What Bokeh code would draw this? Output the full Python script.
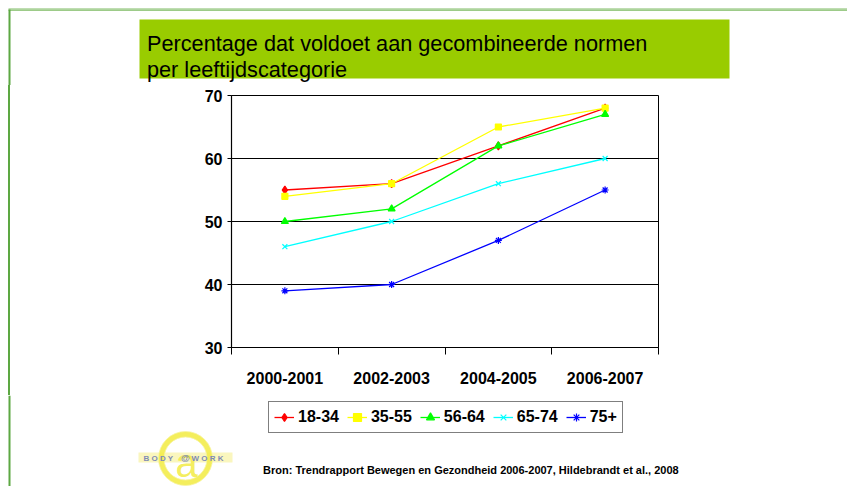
from bokeh.plotting import figure
from bokeh.layouts import column, row
from bokeh.models import (Range1d, LinearAxis, FixedTicker, Legend, LegendItem, Grid, Spacer)
from bokeh.core.properties import value
from bokeh.embed import file_html
from bokeh.resources import INLINE

# ---- data ----
categories = ["2000-2001", "2002-2003", "2004-2005", "2006-2007"]
series_names = ["18-34", "35-55", "56-64", "65-74", "75+"]
v_18_34 = [55, 56, 62, 68]
v_35_55 = [54, 56, 65, 68]
v_56_64 = [50, 52, 62, 67]
v_65_74 = [46, 50, 56, 60]
v_75p = [39, 40, 47, 55]
y_ticks = [30, 40, 50, 60, 70]
title_lines = ["Percentage dat voldoet aan gecombineerde normen", "per leeftijdscategorie"]
source_text = "Bron: Trendrapport Bewegen en Gezondheid 2006-2007, Hildebrandt et al., 2008"

series_values = [v_18_34, v_35_55, v_56_64, v_65_74, v_75p]
colors = ["#FF0000", "#FFFF00", "#00FF00", "#00FFFF", "#0000FF"]
markers = ["diamond", "square", "triangle", "x", "asterisk"]
msizes = [8, 6, 7, 7, 7]

FONT = "Liberation Sans"
LEFT_LINE = "#5DA843"

PW, PH = 847, 486          # page size (layout origin is the page's top-left)
TOP_H = 85                 # top strip: y 0..85
MID_Y1 = 395               # chart strip: y 85..395
LINE_X0, LINE_X1 = 8, 10   # slide's left frame line


def deco_fig(x0, x1, y0, y1):
    f = figure(width=x1 - x0, height=y1 - y0, x_range=Range1d(x0, x1), y_range=Range1d(y1, y0),
               output_backend="svg", toolbar_location=None, x_axis_type=None, y_axis_type=None,
               min_border=0, title=None)
    f.outline_line_color = None
    f.background_fill_color = "white"
    f.border_fill_color = "white"
    return f


# ---------- top strip: slide frame + title box ----------
top = deco_fig(0, PW, 0, TOP_H)
top.quad(left=[8], right=[PW], top=[7.5], bottom=[9], fill_color="#BFDDB2", line_color=None)
top.quad(left=[8], right=[PW], top=[9], bottom=[10.3], fill_color="#7DBA62", line_color=None)
top.quad(left=[LINE_X0], right=[LINE_X1], top=[9], bottom=[TOP_H], fill_color=LEFT_LINE,
         line_color=None)
top.quad(left=[139], right=[729], top=[19], bottom=[78], fill_color="#99CC00", line_color=None)
top.text(x=[146.5, 146.5], y=[43.3, 68.5], text=title_lines, text_font=value(FONT),
         text_font_size=value("21.7px"), text_color="black", text_baseline="alphabetic",
         text_align="left")

# ---------- middle: left line + chart ----------
MID_H = MID_Y1 - TOP_H
gap = Spacer(width=LINE_X0, height=MID_H, margin=0)
strip = Spacer(width=LINE_X1 - LINE_X0, height=MID_H, margin=0,
               styles={"background-color": LEFT_LINE})

FL, FR, FT, FB = 231, 658, 95, 347   # chart frame in page coords
W = PW - LINE_X1
p = figure(width=W, height=MID_H, x_range=Range1d(-0.5, len(categories) - 0.5),
           y_range=Range1d(30, 70), output_backend="svg", toolbar_location=None,
           x_axis_type=None, y_axis_type=None, title=None,
           min_border_left=FL - LINE_X1, min_border_right=PW - FR,
           min_border_top=FT - TOP_H, min_border_bottom=MID_Y1 - FB)
p.background_fill_color = "white"
p.border_fill_color = "white"
p.outline_line_color = "black"
p.outline_line_width = 1

xs = list(range(len(categories)))

xaxis = LinearAxis(ticker=FixedTicker(ticks=xs, minor_ticks=[x - 0.5 for x in xs] + [xs[-1] + 0.5]),
                   major_label_overrides={i: c for i, c in enumerate(categories)})
xaxis.major_tick_out = 0
xaxis.major_tick_in = 0
xaxis.minor_tick_out = 7
xaxis.minor_tick_in = 0
xaxis.minor_tick_line_color = "black"
xaxis.axis_line_color = "black"
xaxis.axis_line_width = 1.2
xaxis.major_label_standoff = 17
xaxis.major_label_text_font = FONT
xaxis.major_label_text_font_style = "bold"
xaxis.major_label_text_font_size = "16px"
xaxis.major_label_text_color = "black"
p.add_layout(xaxis, "below")

yaxis = LinearAxis(ticker=FixedTicker(ticks=y_ticks, minor_ticks=[]))
yaxis.major_tick_out = 4
yaxis.major_tick_in = 0
yaxis.minor_tick_out = 0
yaxis.major_tick_line_color = "black"
yaxis.axis_line_color = "black"
yaxis.axis_line_width = 1.2
yaxis.major_label_standoff = 5
yaxis.major_label_text_font = FONT
yaxis.major_label_text_font_style = "bold"
yaxis.major_label_text_font_size = "16px"
yaxis.major_label_text_color = "black"
p.add_layout(yaxis, "left")

p.add_layout(Grid(dimension=1, ticker=yaxis.ticker, grid_line_color="black", grid_line_width=1))

for name, vals, col, mk, ms in zip(series_names, series_values, colors, markers, msizes):
    p.line(xs, vals, line_color=col, line_width=1.3)
    p.scatter(xs, vals, marker=mk, size=ms, fill_color=col, line_color=col, line_width=1.2)

# ---------- bottom strip: legend + logo + source ----------
bot = deco_fig(0, PW, MID_Y1, PH)
bot.quad(left=[LINE_X0], right=[LINE_X1], top=[MID_Y1], bottom=[PH], fill_color=LEFT_LINE,
         line_color=None)

# legend: same series styled as in the chart (their points fall outside this strip's range)
items = []
for name, vals, col, mk, ms in zip(series_names, series_values, colors, markers, msizes):
    lr = bot.line(xs, vals, line_color=col, line_width=1.3)
    mr = bot.scatter(xs, vals, marker=mk, size=ms, fill_color=col, line_color=col, line_width=1.2)
    items.append(LegendItem(label=name, renderers=[lr, mr]))
legend = Legend(items=items, orientation="horizontal", location=(268, PH - 433))
legend.padding = 5
legend.spacing = 8
legend.margin = 0
legend.label_standoff = 4
legend.glyph_width = 20
legend.glyph_height = 20
legend.label_text_font = FONT
legend.label_text_font_style = "bold"
legend.label_text_font_size = "16px"
legend.label_text_color = "black"
legend.border_line_color = "black"
legend.border_line_width = 1
legend.background_fill_color = "white"
legend.background_fill_alpha = 1
bot.add_layout(legend, "center")

# logo
bot.quad(left=[138], right=[232], top=[452], bottom=[462], fill_color="#FAF6BE", line_color=None)
bot.annulus(x=[185], y=[458], inner_radius=21.5, outer_radius=27, fill_color="#F3EC4A",
            fill_alpha=0.9, line_color="#F8F4A0", line_width=0.8)
bot.text(x=[186], y=[462], text=["a"], text_font=value(FONT), text_font_size=value("40px"),
         text_color="#F3EC4A", text_alpha=0.9, text_baseline="middle", text_align="center")
bot.text(x=[143, 191], y=[457.5, 457.5], text=["B O D Y", "W O R K"], text_font=value(FONT),
         text_font_size=value("8px"), text_font_style="bold", text_color="#7F8BB5",
         text_baseline="middle", text_align="left")
bot.text(x=[185], y=[457.5], text=["@"], text_font=value(FONT),
         text_font_size=value("9px"), text_font_style="bold", text_color="#7F8BB5",
         text_baseline="middle", text_align="center")

# source
bot.text(x=[262.5], y=[469], text=[source_text], text_font=value(FONT),
         text_font_size=value("11px"), text_font_style="bold", text_color="black",
         text_baseline="middle", text_align="left")

layout = column(top, row(gap, strip, p, spacing=0), bot, spacing=0)
open("out.html", "w").write(file_html(layout, INLINE))
